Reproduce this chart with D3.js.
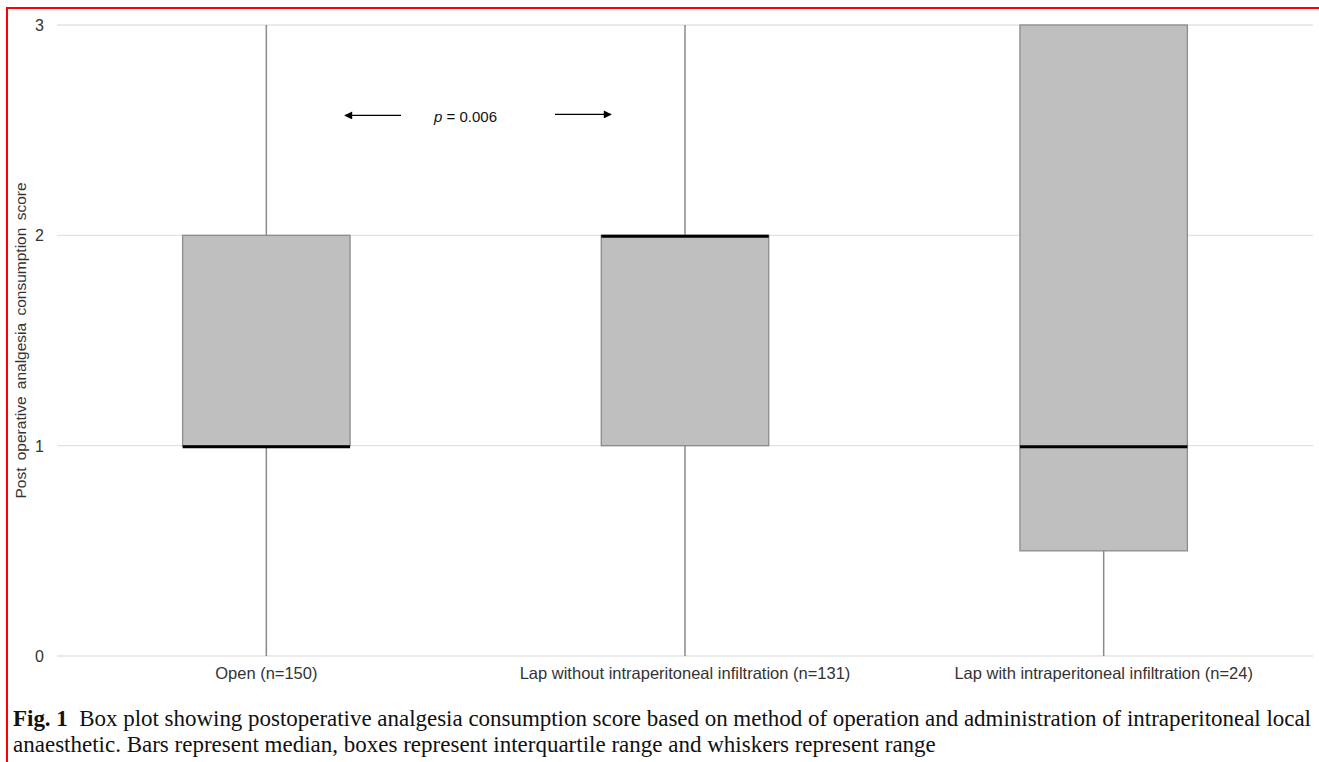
<!DOCTYPE html>
<html>
<head>
<meta charset="utf-8">
<style>
body { margin: 0; background: #fff; }
svg { display: block; }
.tick-text { font: 16px "Liberation Sans", Arial, sans-serif; fill: #333; }
.caption { font: 23px "Liberation Serif", "Times New Roman", serif; fill: #111; }
</style>
<script src="https://cdn.jsdelivr.net/npm/d3@7/dist/d3.min.js"></script>
</head>
<body>
<div id="chart"></div>
<script>
// data
var groups = ["Open (n=150)", "Lap without intraperitoneal infiltration (n=131)", "Lap with intraperitoneal infiltration (n=24)"];
var mins    = [0, 0, 0];
var q1s     = [1, 1, 0.5];
var medians = [1, 2, 1];
var q3s     = [2, 2, 3];
var maxs    = [3, 3, 3];
var yTicks  = [0, 1, 2, 3];

var W = 1319, H = 762;
var margin = {left: 57, right: 6, top: 25, bottom: 106};

var svg = d3.select("#chart").append("svg")
	.attr("width", W)
	.attr("height", H);

// red frame
svg.append("rect")
	.attr("x", 7).attr("y", 8)
	.attr("width", W + 10).attr("height", H + 10)
	.attr("fill", "none")
	.attr("stroke", "#ff0000")
	.attr("stroke-width", 2);

var x = d3.scaleBand()
	.domain(groups)
	.range([margin.left, W - margin.right])
	.paddingInner(0).paddingOuter(0);

var y = d3.scaleLinear()
	.domain([0, 3])
	.range([H - margin.bottom, margin.top]);

// gridlines
svg.append("g")
	.selectAll("line")
	.data(yTicks)
	.enter().append("line")
	.attr("x1", margin.left).attr("x2", W - margin.right)
	.attr("y1", function(d) { return y(d); })
	.attr("y2", function(d) { return y(d); })
	.attr("stroke", "#e3e3e3")
	.attr("stroke-width", 1.3);

// y axis labels
var yAxis = d3.axisLeft(y).tickValues(yTicks).tickSize(0).tickPadding(0).tickFormat(d3.format("d"));
var yg = svg.append("g")
	.attr("transform", "translate(44,0)")
	.call(yAxis);
yg.select(".domain").remove();
yg.selectAll("text").attr("class", "tick-text").attr("dy", "0.35em");

// x axis labels
var xAxis = d3.axisBottom(x).tickSize(0).tickPadding(0);
var xg = svg.append("g")
	.attr("transform", "translate(0," + (y(0) + 11) + ")")
	.call(xAxis);
xg.select(".domain").remove();
xg.selectAll("text").attr("class", "tick-text").attr("dy", "0.71em")
	.style("font-size", "16.5px");

// y title
svg.append("text")
	.attr("class", "tick-text")
	.attr("transform", "translate(26," + ((y(0) + y(3)) / 2) + ") rotate(-90)")
	.attr("text-anchor", "middle")
	.style("font-size", "15.5px")
	.style("word-spacing", "3px")
	.text("Post operative  analgesia  consumption  score");

var boxW = x.bandwidth() * 0.4;

var box = svg.append("g").selectAll("g")
	.data(groups)
	.enter().append("g");

// whiskers
box.append("line")
	.attr("x1", function(d) { return x(d) + x.bandwidth() / 2; })
	.attr("x2", function(d) { return x(d) + x.bandwidth() / 2; })
	.attr("y1", function(d, i) { return y(maxs[i]); })
	.attr("y2", function(d, i) { return y(q3s[i]); })
	.attr("stroke", "#8a8a8a").attr("stroke-width", 1.5);
box.append("line")
	.attr("x1", function(d) { return x(d) + x.bandwidth() / 2; })
	.attr("x2", function(d) { return x(d) + x.bandwidth() / 2; })
	.attr("y1", function(d, i) { return y(q1s[i]); })
	.attr("y2", function(d, i) { return y(mins[i]); })
	.attr("stroke", "#8a8a8a").attr("stroke-width", 1.5);

// boxes
box.append("rect")
	.attr("x", function(d) { return x(d) + (x.bandwidth() - boxW) / 2; })
	.attr("width", boxW)
	.attr("y", function(d, i) { return y(q3s[i]); })
	.attr("height", function(d, i) { return y(q1s[i]) - y(q3s[i]); })
	.attr("fill", "#bfbfbf")
	.attr("stroke", "#8c8c8c")
	.attr("stroke-width", 1.3);

// medians
box.append("line")
	.attr("x1", function(d) { return x(d) + (x.bandwidth() - boxW) / 2; })
	.attr("x2", function(d) { return x(d) + (x.bandwidth() + boxW) / 2; })
	.attr("y1", function(d, i) { return y(medians[i]) + 1; })
	.attr("y2", function(d, i) { return y(medians[i]) + 1; })
	.attr("stroke", "#000").attr("stroke-width", 3);

// p value annotation
var defs = svg.append("defs");
defs.append("marker")
	.attr("id", "arr")
	.attr("viewBox", "0 0 10 10")
	.attr("refX", 9).attr("refY", 5)
	.attr("markerWidth", 11).attr("markerHeight", 8)
	.attr("markerUnits", "userSpaceOnUse")
	.attr("orient", "auto")
	.append("path").attr("d", "M0,0 L10,5 L0,10 z").attr("fill", "#000");

var ay = y(2.57);
svg.append("line")
	.attr("x1", 401).attr("x2", 345).attr("y1", ay).attr("y2", ay)
	.attr("stroke", "#000").attr("stroke-width", 1.2)
	.attr("marker-end", "url(#arr)");
svg.append("line")
	.attr("x1", 555).attr("x2", 611).attr("y1", ay - 1).attr("y2", ay - 1)
	.attr("stroke", "#000").attr("stroke-width", 1.2)
	.attr("marker-end", "url(#arr)");
var pt = svg.append("text")
	.attr("class", "tick-text")
	.attr("x", 434).attr("y", ay + 7)
	.style("font-size", "15px")
	.style("fill", "#111");
pt.append("tspan").style("font-style", "italic").text("p");
pt.append("tspan").text(" = 0.006");

// caption
var cap = svg.append("text").attr("class", "caption");
var l1 = cap.append("tspan").attr("x", 13).attr("y", 726)
	.attr("textLength", 1298).attr("lengthAdjust", "spacing");
l1.append("tspan").style("font-weight", "bold").text("Fig. 1");
l1.append("tspan").text("\u00a0\u00a0Box plot showing postoperative analgesia consumption score based on method of operation and administration of intraperitoneal local");
cap.append("tspan").attr("x", 13).attr("y", 752)
	.text("anaesthetic. Bars represent median, boxes represent interquartile range and whiskers represent range");
</script>
</body>
</html>
